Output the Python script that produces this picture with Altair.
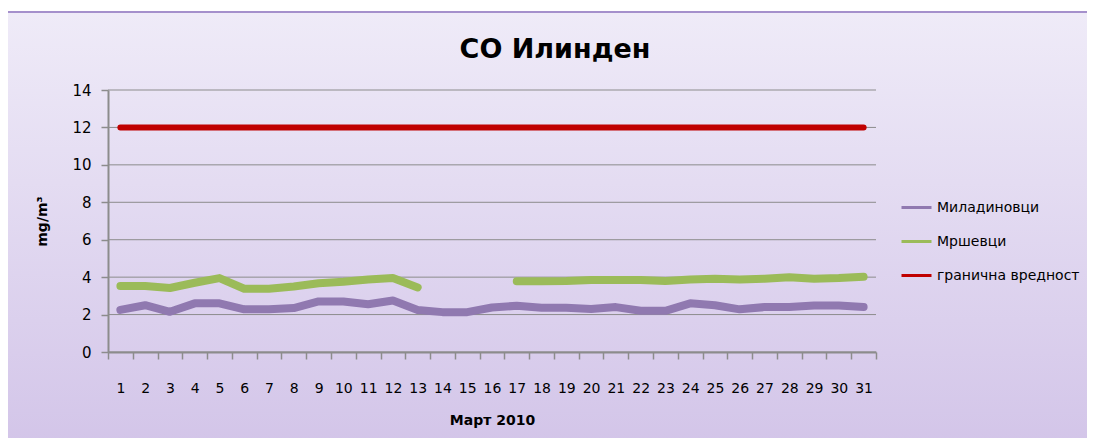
import altair as alt
import pandas as pd

days = list(range(1, 32))
miladinovci = [2.25, 2.5, 2.15, 2.6, 2.6, 2.28, 2.28, 2.35, 2.7, 2.7, 2.55, 2.75, 2.25, 2.13, 2.13,
               2.38, 2.47, 2.37, 2.37, 2.3, 2.4, 2.2, 2.2, 2.6, 2.5, 2.28, 2.4, 2.4, 2.48, 2.48, 2.4]
mrsevci = [3.53, 3.53, 3.42, 3.7, 3.95, 3.38, 3.38, 3.5, 3.67, 3.75, 3.87, 3.95, 3.45, None, None,
           None, 3.78, 3.78, 3.8, 3.85, 3.85, 3.85, 3.8, 3.87, 3.92, 3.87, 3.92, 4.0, 3.92, 3.95, 4.02]
granicna = [12] * 31

series_names = ["Миладиновци", "Мршевци", "гранична вредност"]
series_colors = ["#9079b0", "#9bbb59", "#c00000"]
y_ticks = [0, 2, 4, 6, 8, 10, 12, 14]
chart_title = "CO Илинден"

FONT = "DejaVu Sans"

rows = []
for name, vals in zip(series_names, [miladinovci, mrsevci, granicna]):
    seg = 0
    prev_none = False
    for d, v in zip(days, vals):
        if v is None:
            prev_none = True
            continue
        if prev_none:
            seg += 1
            prev_none = False
        rows.append({"day": d, "value": v, "series": name, "seg": f"{name}-{seg}"})
df = pd.DataFrame(rows)

W, H = 768, 262

bg = alt.Chart(pd.DataFrame({"a": [0]})).mark_rect(
    fill=alt.Gradient(
        gradient="linear",
        stops=[alt.GradientStop(color="#efebf8", offset=0),
               alt.GradientStop(color="#d0c1e7", offset=1)],
        x1=0, x2=0, y1=0, y2=1),
    stroke="#a590cc", strokeWidth=2,
).encode(
    x=alt.value(-102), x2=alt.value(1010),
    y=alt.value(-78), y2=alt.value(400),
)

title = alt.Chart(pd.DataFrame({"t": [chart_title]})).mark_text(
    fontSize=27, fontWeight="bold", font=FONT, color="#000000", baseline="middle", align="center"
).encode(x=alt.value(447), y=alt.value(-40), text="t:N")

y_scale = alt.Scale(domain=[0, 14], nice=False)
y_axis = alt.Axis(title="mg/m³", values=y_ticks, tickSize=7, zindex=1, grid=False,
                  labelPadding=10, titlePadding=22, labelFontSize=15,
                  titleFontWeight="bold", titleFontSize=14)

grid = alt.Chart(pd.DataFrame({"g": y_ticks})).mark_rule(
    color="#8c8c8c", strokeWidth=1
).encode(y=alt.Y("g:Q", scale=y_scale, axis=y_axis), x=alt.value(0), x2=alt.value(W))

x_enc = alt.X("day:O", bandPosition=0.5,
              scale=alt.Scale(type="band", paddingInner=0, paddingOuter=0),
              axis=alt.Axis(title="Март 2010", labelAngle=0, tickBand="extent",
                            labelPadding=22, tickSize=7, titlePadding=18, zindex=1,
                            titleFontWeight="bold", titleFontSize=14))
y_enc = alt.Y("value:Q", scale=y_scale, axis=y_axis)
color_enc = alt.Color("series:N",
                      scale=alt.Scale(domain=series_names, range=series_colors),
                      legend=alt.Legend(title=None, orient="none", legendX=792, legendY=101,
                                        symbolType="stroke", symbolStrokeWidth=3,
                                        symbolSize=900, rowPadding=10,
                                        labelFontSize=14, labelColor="#000000"))

base = alt.Chart(df).encode(x=x_enc, y=y_enc, color=color_enc, detail="seg:N")
measured = base.mark_line(strokeCap="round", strokeJoin="round", strokeWidth=8).transform_filter(
    alt.FieldOneOfPredicate(field="series", oneOf=series_names[:2]))
limit_line = base.mark_line(strokeCap="round", strokeWidth=6).transform_filter(
    alt.FieldEqualPredicate(field="series", equal=series_names[2]))

chart = alt.layer(bg, grid, limit_line, measured, title).properties(
    width=W, height=H,
    autosize=alt.AutoSizeParams(type="none"),
    padding={"left": 100, "top": 82, "right": 211, "bottom": 86},
).configure(font=FONT).configure_view(strokeWidth=0).configure_axis(
    domainColor="#8c8c8c", domainWidth=2, tickColor="#8c8c8c", tickWidth=1.5,
    labelFontSize=14, labelColor="#000000",
    titleColor="#000000", labelFont=FONT, titleFont=FONT,
).configure_axisX(grid=False).configure_legend(labelFont=FONT)

chart.save("out.html", embed_options={"renderer": "svg", "actions": False})
